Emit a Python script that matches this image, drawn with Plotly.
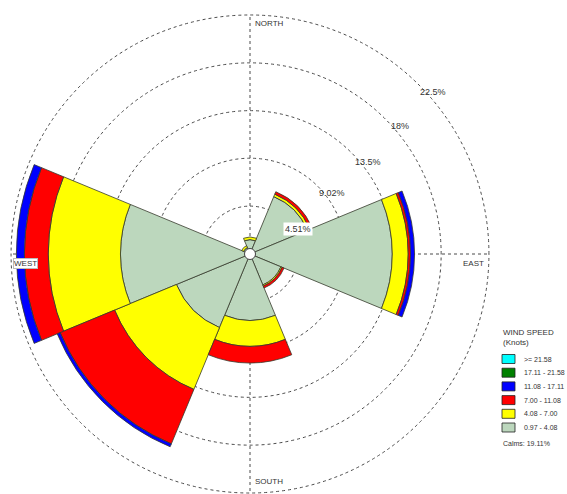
import math
import plotly.graph_objects as go

# ---------------- data ----------------
directions = [0, 45, 90, 135, 180, 225, 270, 315]   # N, NE, E, SE, S, SW, W, NW
bins = ["0.97 - 4.08", "4.08 - 7.00", "7.00 - 11.08", "11.08 - 17.11", "17.11 - 21.58", ">= 21.58"]
colors = ["#bcd7bd", "#ffff00", "#ff0000", "#0000ff", "#008000", "#00ffff"]
freq_0097_0408 = [1.35, 5.85, 13.4, 3.15, 6.25, 7.5, 12.2, 0.65]
freq_0408_0700 = [0.25, 0.25, 1.5, 0.12, 2.45, 6.3, 6.8, 0.2]
freq_0700_1108 = [0.0, 0.25, 0.22, 0.2, 1.57, 5.55, 2.25, 0.0]
freq_1108_1711 = [0.0, 0.0, 0.38, 0.0, 0.0, 0.3, 0.75, 0.0]
freq_1711_2158 = [0.0, 0.0, 0.0, 0.0, 0.0, 0.0, 0.0, 0.0]
freq_2158_up = [0.0, 0.0, 0.0, 0.0, 0.0, 0.0, 0.0, 0.0]
ring_vals = [4.51, 9.02, 13.5, 18, 22.5]
ring_text = ["4.51%", "9.02%", "13.5%", "18%", "22.5%"]
legend_title = ["WIND SPEED", "(Knots)"]
calms_text = "Calms: 19.11%"

series = [freq_0097_0408, freq_0408_0700, freq_0700_1108, freq_1108_1711, freq_1711_2158, freq_2158_up]

W, H = 567, 494
FONT = "Liberation Sans, Arial, sans-serif"
TXT = "#333"

def px(x):
    return x / W

def py(y):
    return 1 - y / H

# polar placement (pixels)
DOM_X = (10, 490)
DOM_Y_TOP = 14
R_MAX = 22.6

fig = go.Figure()
for name, col, vals in zip(bins, colors, series):
    fig.add_trace(go.Barpolar(
        r=vals, theta=directions, width=[45] * len(directions), name=name,
        marker=dict(color=col, line=dict(color="#363a2c", width=0.8)),
        hoverinfo="skip", showlegend=False,
    ))

# calm circle in the centre
fig.add_trace(go.Scatterpolar(
    r=[0], theta=[0], mode="markers", showlegend=False, hoverinfo="skip",
    marker=dict(size=11, color="white", line=dict(color="#444", width=1)),
))

fig.update_layout(
    width=W, height=H,
    margin=dict(l=0, r=0, t=0, b=0),
    paper_bgcolor="white",
    showlegend=False,
    font=dict(family=FONT, color=TXT, size=9),
    polar=dict(
        domain=dict(x=[px(DOM_X[0]), px(DOM_X[1])], y=[0, py(DOM_Y_TOP)]),
        bgcolor="white",
        barmode="stack",
        angularaxis=dict(
            rotation=90, direction="clockwise",
            tickmode="array", tickvals=[0, 90, 180, 270],
            showticklabels=False, ticks="",
            showgrid=True, gridcolor="#4a4a4a", griddash="dot", gridwidth=1,
            showline=False,
        ),
        radialaxis=dict(
            range=[0, R_MAX],
            tickmode="array", tickvals=ring_vals,
            showticklabels=False,
            showline=False, ticks="",
            showgrid=True, gridcolor="#4a4a4a", griddash="dot", gridwidth=1,
        ),
    ),
)

# ring labels placed along the ring positions
cx = (DOM_X[0] + DOM_X[1]) / 2
cy = (DOM_Y_TOP + H) / 2
rad = (H - DOM_Y_TOP) / 2
label_angles = [28, 36.5, 38, 40.5, 41.5]
for v, t, a in zip(ring_vals, ring_text, label_angles):
    rp = v / R_MAX * rad + 6
    x = cx + rp * math.cos(math.radians(a))
    y = cy - rp * math.sin(math.radians(a))
    extra = dict(bgcolor="white", borderpad=1) if v == ring_vals[0] else {}
    fig.add_annotation(xref="paper", yref="paper", showarrow=False, text=t,
                       x=px(x), y=py(y), xanchor="center", yanchor="middle",
                       font=dict(size=9, color=TXT, family=FONT), **extra)

ann = [
    dict(text="NORTH", x=px(253), y=py(23), xanchor="left", yanchor="middle"),
    dict(text="EAST", x=px(486), y=py(263), xanchor="right", yanchor="middle"),
    dict(text="SOUTH", x=px(253), y=py(481), xanchor="left", yanchor="middle"),
    dict(text="WEST", x=px(13), y=py(263), xanchor="left", yanchor="middle",
         bgcolor="white", bordercolor="#bbb", borderwidth=1, borderpad=0),
]
for a in ann:
    fig.add_annotation(xref="paper", yref="paper", showarrow=False,
                       font=dict(size=8, color=TXT, family=FONT), **a)

# legend (drawn as swatches + labels)
fig.add_annotation(xref="paper", yref="paper", showarrow=False,
                   text="<br>".join(legend_title), align="left",
                   x=px(501), y=py(326), xanchor="left", yanchor="top",
                   font=dict(size=8, color=TXT, family=FONT))
leg_top = 359
for i, (name, col) in enumerate(zip(bins[::-1], colors[::-1])):
    yc = leg_top + i * 13.7
    fig.add_shape(type="rect", xref="paper", yref="paper",
                  x0=px(502), x1=px(515), y0=py(yc - 4.5), y1=py(yc + 4.5),
                  fillcolor=col, line=dict(color="#222", width=0.8))
    fig.add_annotation(xref="paper", yref="paper", showarrow=False, text=name,
                       x=px(522), y=py(yc), xanchor="left", yanchor="middle",
                       font=dict(size=7, color=TXT, family=FONT))
fig.add_annotation(xref="paper", yref="paper", showarrow=False, text=calms_text,
                   x=px(501), y=py(443), xanchor="left", yanchor="middle",
                   font=dict(size=7, color=TXT, family=FONT))

fig.write_html("out.html", config={"displayModeBar": False},
               post_script="document.body.style.margin='0';document.body.style.overflow='hidden';")
